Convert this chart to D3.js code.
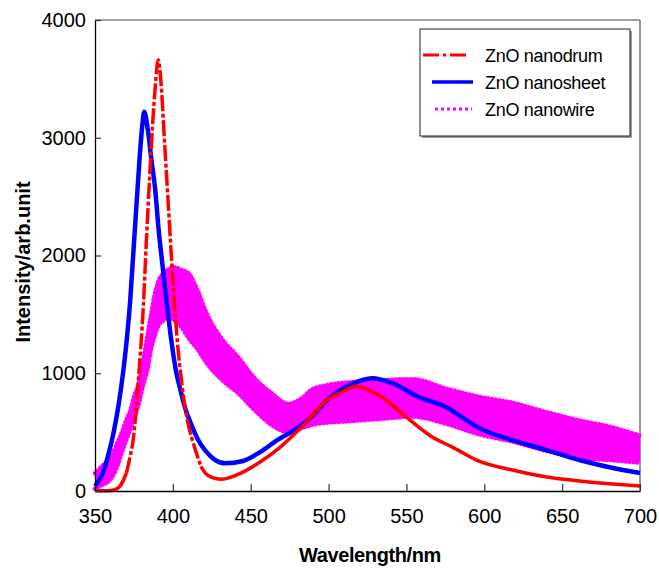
<!DOCTYPE html>
<html>
<head>
<meta charset="utf-8">
<script src="https://cdn.jsdelivr.net/npm/d3@7"></script>
<style>
  body { margin: 0; background: #fff; }
  svg { display: block; font-family: Arial, "Liberation Sans", sans-serif; }
</style>
</head>
<body>
<div id="chart"></div>
<script>
// ZnO nanodrum (red, dash-dot)
const drumWl = [350, 358, 362, 366, 370.2, 372.5, 374.5, 376.6, 378.2, 381, 383, 385.2, 388.5, 390.6,
  392.5, 394.5, 397, 399, 401, 403, 405, 407, 410, 414, 418, 421, 425, 431, 441, 456, 469, 484, 499,
  508.6, 517.6, 526, 537, 550, 566.6, 579.5, 595, 618, 640, 661, 682.6, 700];
const drumI = [3, 3, 8, 40, 153, 290, 432, 712, 1000, 1560, 2127, 2695, 3400, 3660,
  3450, 3000, 2450, 2000, 1600, 1250, 1000, 780, 560, 370, 210, 150, 115, 100, 136, 246, 373, 560, 771,
  839, 890, 856, 771, 627, 458, 373, 263, 178, 119, 85, 59, 42];

// ZnO nanosheet (blue, solid)
const sheetWl = [350, 353, 356, 359, 362, 365, 368, 370.5, 372.5, 374.5, 376.5, 378.5, 380.5, 381.6,
  384, 386.3, 388.5, 391, 393.5, 396, 399, 402, 405, 408, 412, 416, 421, 427, 434, 445, 456, 467, 478,
  489, 499, 511, 520, 528, 541, 558, 575.6, 588.5, 597, 618, 640, 661, 682.6, 700];
const sheetI = [40, 100, 190, 330, 500, 720, 1000, 1300, 1600, 2000, 2400, 2800, 3120, 3220,
  3060, 2805, 2580, 2200, 1900, 1600, 1280, 1020, 850, 700, 560, 440, 340, 265, 235, 255, 330, 432, 517,
  627, 771, 881, 935, 958, 915, 797, 712, 602, 534, 432, 347, 263, 195, 153];

// ZnO nanowire (magenta, dotted, noisy band: lower / upper edge)
const wireWl = [350, 353, 356, 360, 364, 367, 370, 372.6, 375, 377.7, 381, 384, 386, 388, 390.6, 394,
  397, 401, 405, 410, 416, 422, 431, 442, 453, 463.5, 474, 484, 489, 499, 511, 532, 554, 575.6, 597,
  618, 640, 661, 682.6, 700];
const wireLow = [20, 40, 60, 100, 200, 320, 430, 520, 620, 720, 900, 1050, 1200, 1300, 1400, 1450,
  1480, 1450, 1400, 1300, 1200, 1080, 950, 830, 680, 560, 500, 540, 560, 580, 590, 610, 630, 570, 480,
  420, 340, 280, 260, 240];
const wireHigh = [150, 190, 230, 280, 400, 490, 600, 680, 800, 900, 1110, 1350, 1500, 1650, 1780, 1850,
  1880, 1900, 1880, 1850, 1700, 1500, 1300, 1136, 950, 830, 740, 800, 860, 900, 920, 940, 950, 870, 800,
  750, 670, 600, 540, 470];

const xTicks = [350, 400, 450, 500, 550, 600, 650, 700];
const yTicks = [0, 1000, 2000, 3000, 4000];
const seriesNames = ['ZnO nanodrum', 'ZnO nanosheet', 'ZnO nanowire'];

const width = 659, height = 569;

const svg = d3.select('#chart').append('svg')
  .attr('width', width)
  .attr('height', height);

const x = d3.scaleLinear().domain([350, 700]).range([95, 640]);
const y = d3.scaleLinear().domain([0, 4000]).range([491, 20]);

// frame (top + right)
svg.append('line').attr('x1', 95).attr('x2', 640).attr('y1', 20).attr('y2', 20)
  .attr('stroke', '#444').attr('stroke-width', 1.2);
svg.append('line').attr('x1', 640).attr('x2', 640).attr('y1', 20).attr('y2', 491)
  .attr('stroke', '#777').attr('stroke-width', 1.5);

// nanowire band
const wire = wireWl.map((w, i) => ({ w: w, lo: wireLow[i], hi: wireHigh[i] }));
const band = d3.area().curve(d3.curveMonotoneX)
  .x(d => x(d.w)).y0(d => y(d.lo)).y1(d => y(d.hi));
svg.append('path').datum(wire).attr('d', band).attr('fill', '#ff00ff');
['lo', 'hi'].forEach(k => {
  svg.append('path').datum(wire)
    .attr('d', d3.line().curve(d3.curveMonotoneX).x(d => x(d.w)).y(d => y(d[k])))
    .attr('fill', 'none').attr('stroke', '#ff00ff').attr('stroke-width', 4.5)
    .attr('stroke-linecap', 'round').attr('stroke-dasharray', '0.1,3.7');
});

// nanosheet
const sheet = sheetWl.map((w, i) => ({ w: w, v: sheetI[i] }));
const line = d3.line().curve(d3.curveMonotoneX).x(d => x(d.w)).y(d => y(d.v));
svg.append('path').datum(sheet).attr('d', line)
  .attr('fill', 'none').attr('stroke', '#0000ff').attr('stroke-width', 4.5)
  .attr('stroke-linejoin', 'round');

// nanodrum: dash-dot shows only on the steep parts (like the original plot)
const drum = drumWl.map((w, i) => ({ w: w, v: drumI[i] }));
const runs = [];
for (let i = 1; i < drum.length; i++) {
  const dx = Math.abs(x(drum[i].w) - x(drum[i - 1].w));
  const dy = Math.abs(y(drum[i].v) - y(drum[i - 1].v));
  const steep = dy > 2.5 * dx;
  const last = runs[runs.length - 1];
  if (last && last.steep === steep) last.pts.push(drum[i]);
  else runs.push({ steep: steep, pts: [drum[i - 1], drum[i]] });
}
runs.forEach(r => {
  svg.append('path').datum(r.pts).attr('d', line)
    .attr('fill', 'none').attr('stroke', '#ff0000').attr('stroke-width', 3.5)
    .attr('stroke-dasharray', r.steep ? '16,2.5,4,2.5' : null);
});

// axes
const xAxis = svg.append('g').attr('transform', 'translate(0,491)')
  .call(d3.axisBottom(x).tickValues(xTicks).tickSize(-7).tickSizeOuter(0).tickPadding(18));
const yAxis = svg.append('g').attr('transform', 'translate(95,0)')
  .call(d3.axisLeft(y).tickValues(yTicks).tickFormat(d3.format('d'))
    .tickSize(-6).tickSizeOuter(0).tickPadding(9));

[xAxis, yAxis].forEach(a => {
  a.select('.domain').attr('stroke', '#000').attr('stroke-width', 1.3);
  a.selectAll('.tick line').attr('stroke', '#333').attr('stroke-width', 1.2);
  a.selectAll('.tick text').attr('fill', '#000').style('font-size', '20px')
    .style('font-family', 'Arial, "Liberation Sans", sans-serif');
});

svg.append('text')
  .attr('x', 370).attr('y', 562)
  .attr('text-anchor', 'middle')
  .style('font-size', '20px').style('font-weight', 'bold')
  .attr('letter-spacing', '-0.4')
  .text('Wavelength/nm');

svg.append('text')
  .attr('transform', 'translate(30,262) rotate(-90)')
  .attr('text-anchor', 'middle')
  .style('font-size', '20px').style('font-weight', 'bold')
  .text('Intensity/arb.unit');

// legend
const legend = svg.append('g');
legend.append('rect').attr('x', 422).attr('y', 31).attr('width', 210).attr('height', 107)
  .attr('fill', '#999');
legend.append('rect').attr('x', 420).attr('y', 29).attr('width', 210).attr('height', 107)
  .attr('fill', '#fff').attr('stroke', '#222').attr('stroke-width', 1);

const legendStyles = [
  { color: '#ff0000', width: 3, dash: '16,4,3,4', x1: 423, x2: 468 },
  { color: '#0000ff', width: 3.5, dash: null, x1: 432, x2: 473 },
  { color: '#ff00ff', width: 3, dash: '3,3', x1: 435, x2: 472 }
];
seriesNames.forEach((name, i) => {
  const cy = 55 + i * 27;
  const s = legendStyles[i];
  legend.append('line').attr('x1', s.x1).attr('x2', s.x2).attr('y1', cy).attr('y2', cy)
    .attr('stroke', s.color).attr('stroke-width', s.width)
    .attr('stroke-dasharray', s.dash);
  legend.append('text').attr('x', 485).attr('y', cy + 7)
    .style('font-size', '18px').attr('letter-spacing', '-0.3')
    .text(name);
});
</script>
</body>
</html>
